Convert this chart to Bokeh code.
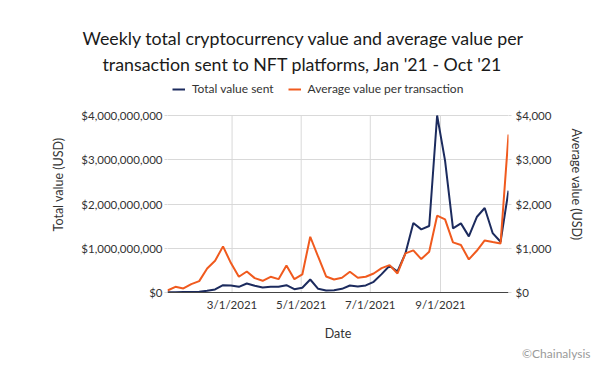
from datetime import datetime, timedelta
from bokeh.plotting import figure
from bokeh.models import (Range1d, LinearAxis, FixedTicker, DatetimeTickFormatter,
                          Legend, LegendItem, Title, NumeralTickFormatter)
from bokeh.embed import file_html
from bokeh.resources import INLINE

# ---- data (weekly, Jan 3 2021 - Oct 31 2021) ----
start_date = datetime(2021, 1, 3)
n_weeks = 44
dates = [start_date + timedelta(weeks=i) for i in range(n_weeks)]

total_value_musd = [5, 8, 10, 12, 15, 38, 68, 166, 159, 128, 204, 151, 113, 128, 128,
                    166, 75, 106, 294, 83, 45, 53, 83, 159, 136, 159, 242, 415, 604,
                    475, 883, 1570, 1427, 1502, 4000, 2981, 1449, 1562, 1268, 1706,
                    1910, 1343, 1147, 2302]
total_value = [v * 1e6 for v in total_value_musd]

avg_value = [45, 128, 91, 189, 257, 543, 717, 1042, 664, 355, 475, 325, 264, 355, 302,
             611, 302, 408, 1260, 808, 362, 294, 332, 468, 332, 355, 430, 551, 619,
             430, 883, 951, 755, 921, 1736, 1653, 1132, 1072, 747, 943, 1177, 1140,
             1109, 3570]

x_tick_dates = [datetime(2021, 3, 1), datetime(2021, 5, 1), datetime(2021, 7, 1), datetime(2021, 9, 1)]
left_ticks = [0, 1e9, 2e9, 3e9, 4e9]
right_ticks = [0, 1000, 2000, 3000, 4000]

title_line1 = "Weekly total cryptocurrency value and average value per"
title_line2 = "transaction sent to NFT platforms, Jan '21 - Oct '21"
legend_labels = ["Total value sent", "Average value per transaction"]
credit = "©Chainalysis"

NAVY = "#1c2b5e"
ORANGE = "#f05a1e"
FONT = "Lato"
TXT = "#333333"
GRID = "#d9d9d9"

# layout (pixels)
W, H = 600, 368
FRAME_TOP, AXIS_TOP, FRAME_BOTTOM = 76, 115, 292
FRAME_LEFT, FRAME_RIGHT = 167, 508
LEGEND_BOTTOM = 96
# frame extends above the 4e9 gridline to host the legend
scale = (FRAME_BOTTOM - FRAME_TOP) / (FRAME_BOTTOM - AXIS_TOP)
y_top_left = left_ticks[-1] * scale
y_top_right = right_ticks[-1] * scale

def ms(d):
    return (d - datetime(1970, 1, 1)).total_seconds() * 1000.0

p = figure(width=W, height=H, x_axis_type="datetime",
           x_range=Range1d(ms(dates[0]), ms(dates[-1])),
           y_range=Range1d(0, y_top_left),
           output_backend="svg", toolbar_location=None,
           min_border_left=FRAME_LEFT, min_border_right=W - FRAME_RIGHT,
           min_border_top=FRAME_TOP, min_border_bottom=H - FRAME_BOTTOM)
p.extra_y_ranges = {"avg": Range1d(0, y_top_right)}
p.outline_line_color = None
p.background_fill_color = "white"
p.border_fill_color = "white"

# vertical gridlines limited to the value area
p.segment(x0=x_tick_dates, x1=x_tick_dates, y0=[left_ticks[0]] * len(x_tick_dates),
          y1=[left_ticks[-1]] * len(x_tick_dates), line_color=GRID, line_width=1)

r1 = p.line(dates, total_value, line_color=NAVY, line_width=2)
r2 = p.line(dates, avg_value, line_color=ORANGE, line_width=2, y_range_name="avg")

# x axis
xa = p.xaxis[0]
xa.ticker = FixedTicker(ticks=[ms(d) for d in x_tick_dates])
fmt = "%-m/%-d/%Y"
xa.formatter = DatetimeTickFormatter(days=fmt, months=fmt, years=fmt, hours=fmt)
xa.axis_label = "Date"
xa.axis_line_color = "#444444"
xa.major_tick_line_color = None
xa.major_tick_out = 0
xa.minor_tick_line_color = None
xa.major_label_text_font = FONT
xa.major_label_text_font_size = "11.5px"
xa.major_label_text_color = TXT
xa.axis_label_text_font = FONT
xa.axis_label_text_font_style = "normal"
xa.axis_label_text_font_size = "12.5px"
xa.axis_label_text_color = TXT
xa.major_label_standoff = 5
xa.axis_label_standoff = 12

# left axis
ya = p.yaxis[0]
ya.ticker = FixedTicker(ticks=left_ticks)
ya.formatter = NumeralTickFormatter(format="$0,0")
ya.axis_label = "Total value (USD)"
ya.axis_line_color = None
ya.major_tick_line_color = GRID
ya.major_tick_out = 3
ya.major_tick_in = 0
ya.minor_tick_line_color = None
ya.major_label_text_font = FONT
ya.major_label_text_font_size = "11.5px"
ya.major_label_text_color = TXT
ya.axis_label_text_font = FONT
ya.axis_label_text_font_style = "normal"
ya.axis_label_text_font_size = "12.5px"
ya.axis_label_text_color = TXT
ya.major_label_standoff = 2
ya.axis_label_standoff = 12

# right axis
ra = LinearAxis(y_range_name="avg", ticker=FixedTicker(ticks=right_ticks),
                formatter=NumeralTickFormatter(format="$0,0"),
                axis_label="Average value (USD)")
ra.axis_line_color = None
ra.major_tick_line_color = GRID
ra.major_tick_out = 3
ra.major_tick_in = 0
ra.minor_tick_line_color = None
ra.major_label_text_font = FONT
ra.major_label_text_font_size = "11.5px"
ra.major_label_text_color = TXT
ra.axis_label_text_font = FONT
ra.axis_label_text_font_style = "normal"
ra.axis_label_text_font_size = "12.5px"
ra.axis_label_text_color = TXT
ra.major_label_standoff = 4
ra.axis_label_standoff = 15
p.add_layout(ra, "right")

p.xgrid.visible = False
p.ygrid.grid_line_color = GRID
p.ygrid.ticker = ya.ticker

# legend (inside the extended frame, above the 4e9 gridline)
legend = Legend(items=[LegendItem(label=legend_labels[0], renderers=[r1]),
                       LegendItem(label=legend_labels[1], renderers=[r2])],
                orientation="horizontal", location=(5, FRAME_BOTTOM - LEGEND_BOTTOM),
                label_text_font=FONT, label_text_font_size="12px", label_text_color=TXT,
                glyph_width=13, glyph_height=14, label_height=14, label_standoff=7,
                spacing=14, border_line_color=None, background_fill_alpha=0,
                padding=0, margin=0)
p.add_layout(legend)

# titles
t2 = Title(text=title_line2, align="left", offset=-65, text_font=FONT,
           text_font_size="17.8px", text_font_style="normal", text_color="#1a1a1a",
           standoff=4)
t1 = Title(text=title_line1, align="left", offset=-85, text_font=FONT,
           text_font_size="17.8px", text_font_style="normal", text_color="#1a1a1a",
           standoff=0)
p.add_layout(t2, "above")
p.add_layout(t1, "above")

# credit line below
tc = Title(text=credit, align="right", offset=-82, text_font=FONT,
           text_font_size="12px", text_font_style="normal", text_color="#9a9a9a",
           standoff=0)
p.add_layout(tc, "below")

open("out.html", "w").write(file_html(p, INLINE))
